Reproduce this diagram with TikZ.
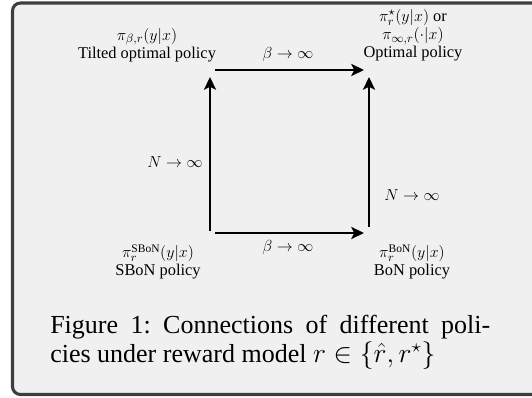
\documentclass[tikz,border=0pt]{standalone}
\usepackage{fontspec}
\setmainfont{Liberation Serif}
\usetikzlibrary{arrows.meta}
\definecolor{bgfill}{HTML}{F0F0F0}
\definecolor{frame}{HTML}{3E3E3E}
\begin{document}
\begin{tikzpicture}[x=0.75pt,y=-0.75pt,
  lbl/.style={align=center,inner sep=0pt,font=\fontsize{12.3}{13.6}\selectfont},
  arr/.style={line width=2pt,-{Stealth[length=9.5pt,width=9pt,inset=2.2pt]}},
  captext/.style={inner sep=0pt,text width=330pt,align=justify,font=\fontsize{19.5}{21.75}\selectfont}]
\useasboundingbox (0,0) rectangle (532,398);
\clip (0,0) rectangle (532,398);
\draw[rounded corners=6pt,line width=2.3pt,draw=frame,fill=bgfill] (12.5,3) rectangle (560,394.5);
% policy labels
\node[lbl] (tl) at (147,45) {$\pi_{\beta,r}(y|x)$\\Tilted optimal policy};
\node[lbl] (tr) at (413,35.5) {$\pi^\star_r(y|x)$ or\\$\pi_{\infty,r}(\cdot|x)$\\Optimal policy};
\node[lbl] (bl) at (158,262) {$\pi^{\mathrm{SBoN}}_r(y|x)$\\SBoN policy};
\node[lbl] (br) at (412,262) {$\pi^{\mathrm{BoN}}_r(y|x)$\\BoN policy};
% arrow anchors
\coordinate (a1) at (215,70);
\coordinate (a2) at (364,70);
\coordinate (b1) at (215,233);
\coordinate (b2) at (364,233);
\coordinate (l1) at (210,231);
\coordinate (l2) at (210,77);
\coordinate (r1) at (369,227);
\coordinate (r2) at (369,77);
\draw[arr] (a1) -- (a2);
\draw[arr] (b1) -- (b2);
\draw[arr] (l1) -- (l2);
\draw[arr] (r1) -- (r2);
% arrow labels
\node[lbl] (ta) at (288,55) {$\beta\to\infty$};
\node[lbl] (ba) at (288,248) {$\beta\to\infty$};
\node[lbl] (la) at (175,162) {$N\to\infty$};
\node[lbl] (ra) at (412,195) {$N\to\infty$};
% caption
\node[captext,anchor=north west] (caption) at (50,315) {Figure 1:\ Connections of different poli-\linebreak cies under reward model $r\in\{\hat r,r^\star\}$};
\end{tikzpicture}
\end{document}
